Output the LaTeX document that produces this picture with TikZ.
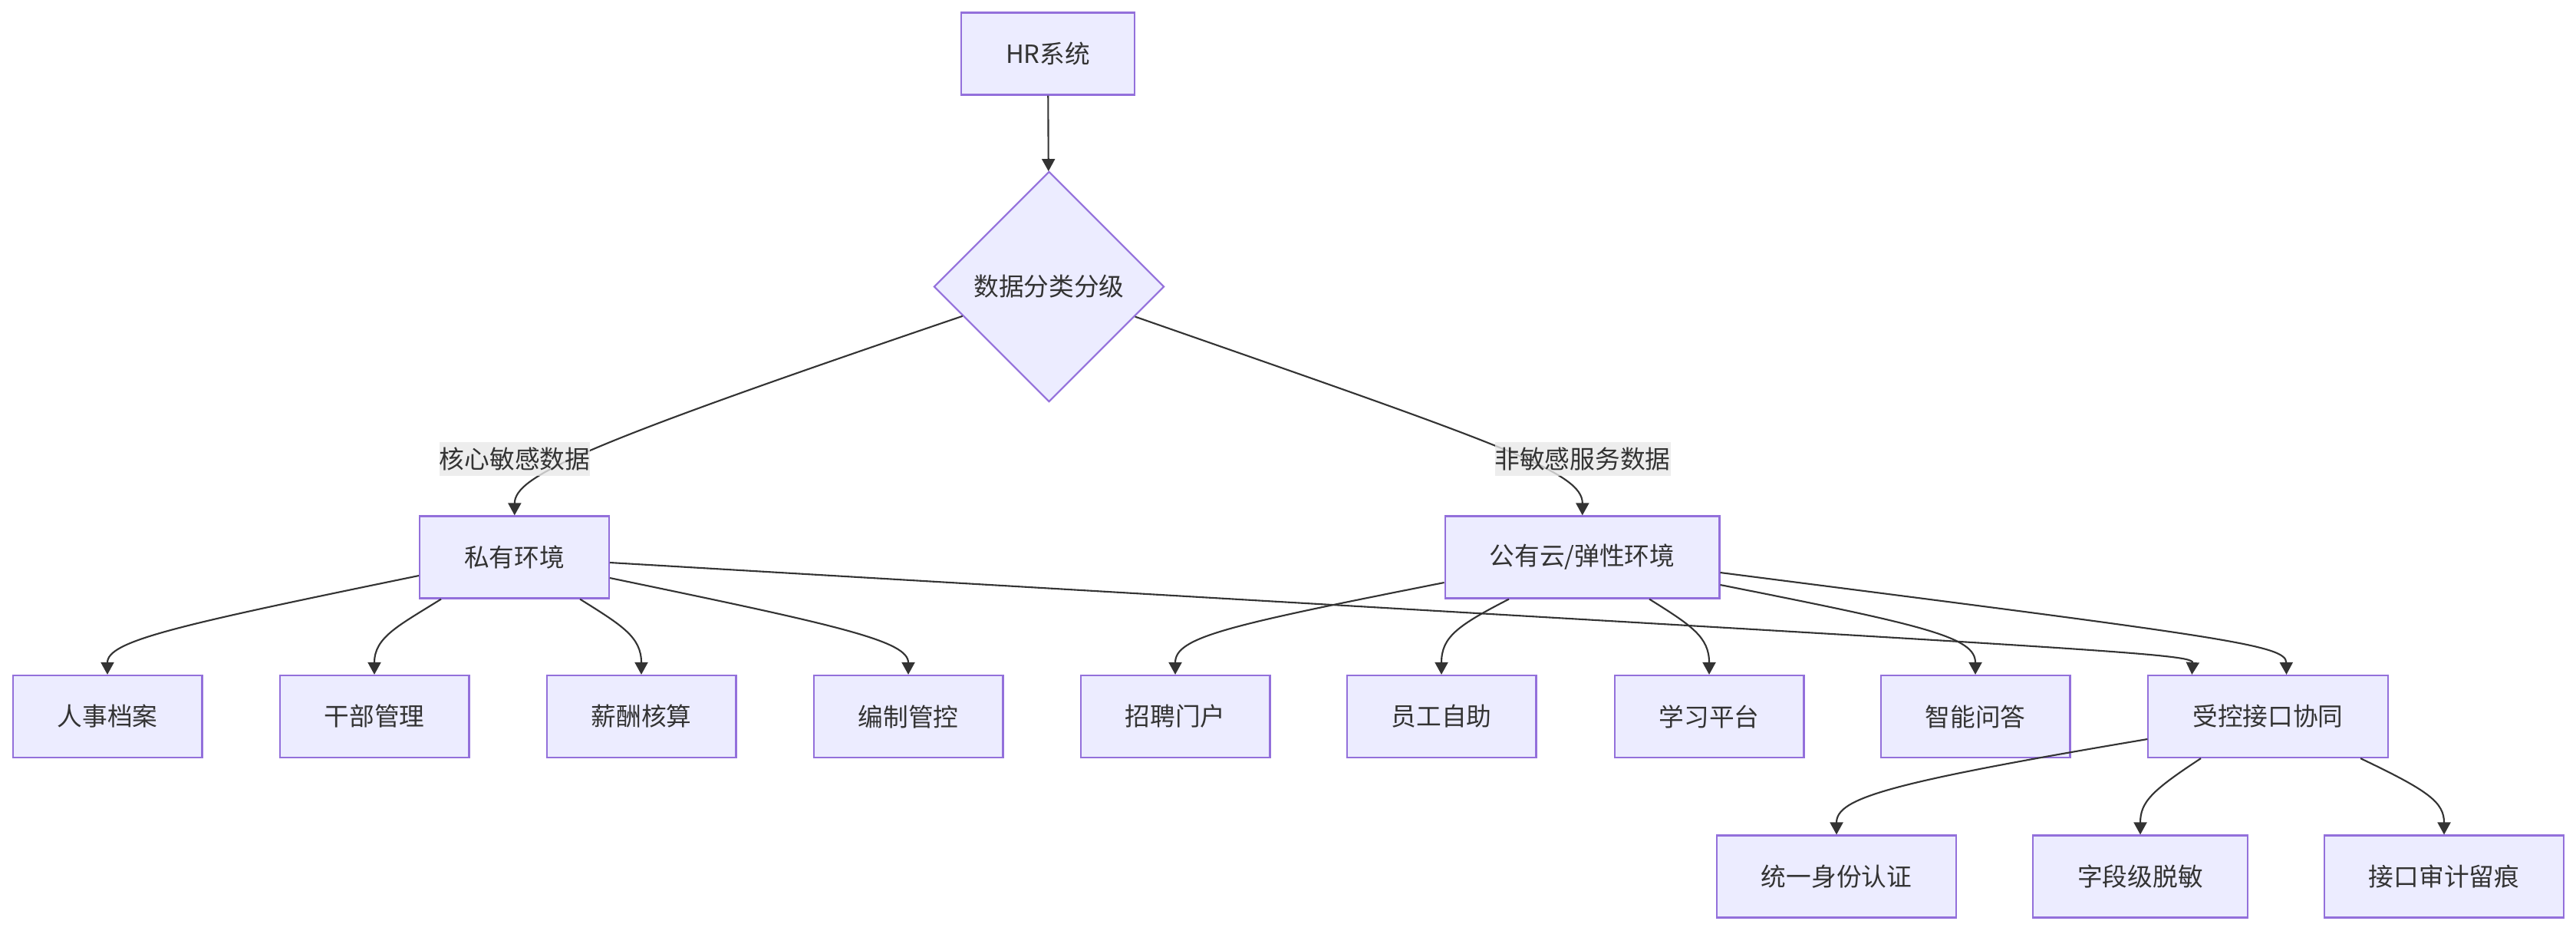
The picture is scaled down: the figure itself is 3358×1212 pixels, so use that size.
\documentclass[tikz,border=0pt]{standalone}
\usepackage{fontspec}
\setmainfont{Noto Sans CJK SC}
\usepackage{xcolor}
\usepackage{tikz}
\usetikzlibrary{shapes.geometric,arrows.meta,positioning,calc}
\definecolor{nodefill}{HTML}{ECECFF}
\definecolor{nodeline}{HTML}{9370DB}
\definecolor{edgeline}{HTML}{333333}
\definecolor{labelbg}{HTML}{E8E8E8}

\begin{document}
\begin{tikzpicture}[
    x=0.01cm, y=-0.01cm,
    font=\fontsize{9.3}{11}\selectfont,
    box/.style = {draw=nodeline, fill=nodefill, line width=0.6pt, minimum height=1.07cm, inner xsep=0.58cm, text=edgeline},
    decision/.style = {draw=nodeline, fill=nodefill, line width=0.6pt, diamond, minimum width=3cm, minimum height=3cm, inner sep=0pt, text=edgeline},
    edge_label/.style = {fill=labelbg, fill opacity=0.8, text opacity=1, inner xsep=0pt, inner ysep=0.07cm, text=edgeline},
    link/.style = {draw=edgeline, line width=0.6pt, -{Triangle[length=0.16cm, width=0.17cm]}}
]
    \useasboundingbox (0,0) rectangle (3358,1212);

    \node[box] (hr) at (1366,70) {HR系统};
    \node[decision] (dec) at (1367.5,373.5) {数据分类分级};
    \node[box] (priv) at (670.5,726) {私有环境};
    \node[box] (pub) at (2062.5,726) {公有云/弹性环境};

    \node[box] (dossier) at (140,933.5) {人事档案};
    \node[box] (cadre) at (488,933.5) {干部管理};
    \node[box] (payroll) at (836,933.5) {薪酬核算};
    \node[box] (staffing) at (1184,933.5) {编制管控};
    \node[box] (recruit) at (1532,933.5) {招聘门户};
    \node[box] (selfsvc) at (1879,933.5) {员工自助};
    \node[box] (learning) at (2228,933.5) {学习平台};
    \node[box] (qa) at (2575,933.5) {智能问答};
    \node[box] (ctrl) at (2956.5,933.5) {受控接口协同};

    \node[box] (sso) at (2394,1142) {统一身份认证};
    \node[box] (mask) at (2790,1142) {字段级脱敏};
    \node[box] (audit) at (3186,1142) {接口审计留痕};

    \draw[link] (hr) -- (dec);
    \draw[link] (dec) .. controls (760,580) and (671,620) .. (priv);
    \draw[link] (dec) .. controls (1960,580) and (2063,615) .. (pub);

    \draw[link] ([yshift=-0.24cm]priv.west) .. controls (230,815) and (140,835) .. (dossier.north);
    \draw[link] ([xshift=-0.955cm]priv.south) .. controls (520,815) and (488,830) .. (cadre.north);
    \draw[link] ([xshift=0.855cm]priv.south) .. controls (811,815) and (836,830) .. (payroll.north);
    \draw[link] ([yshift=-0.27cm]priv.east) .. controls (1094,815) and (1184,835) .. (staffing.north);
    \draw[link] ([yshift=-0.07cm]priv.east) .. controls (2700,845) and (2859,850) .. ([xshift=0.58cm]ctrl.north west);

    \draw[link] ([yshift=-0.33cm]pub.west) .. controls (1600,815) and (1532,830) .. (recruit.north);
    \draw[link] ([xshift=-0.955cm]pub.south) .. controls (1900,815) and (1879,830) .. (selfsvc.north);
    \draw[link] ([xshift=0.875cm]pub.south) .. controls (2205,815) and (2228,830) .. (learning.north);
    \draw[link] ([yshift=-0.36cm]pub.east) .. controls (2510,815) and (2575,830) .. (qa.north);
    \draw[link] ([yshift=-0.2cm]pub.east) .. controls (2900,830) and (2980,840) .. ([xshift=0.24cm]ctrl.north);

    \draw[link] ([yshift=-0.295cm]ctrl.west) .. controls (2460,1020) and (2394,1040) .. (sso.north);
    \draw[link] ([xshift=-0.875cm]ctrl.south) .. controls (2805,1030) and (2790,1045) .. (mask.north);
    \draw[link] ([xshift=1.205cm]ctrl.south) .. controls (3165,1030) and (3186,1045) .. (audit.north);

    \node[edge_label] (lblcore) at (671,598) {核心敏感数据};
    \node[edge_label] (lblpub) at (2063,598) {非敏感服务数据};
\end{tikzpicture}
\end{document}
